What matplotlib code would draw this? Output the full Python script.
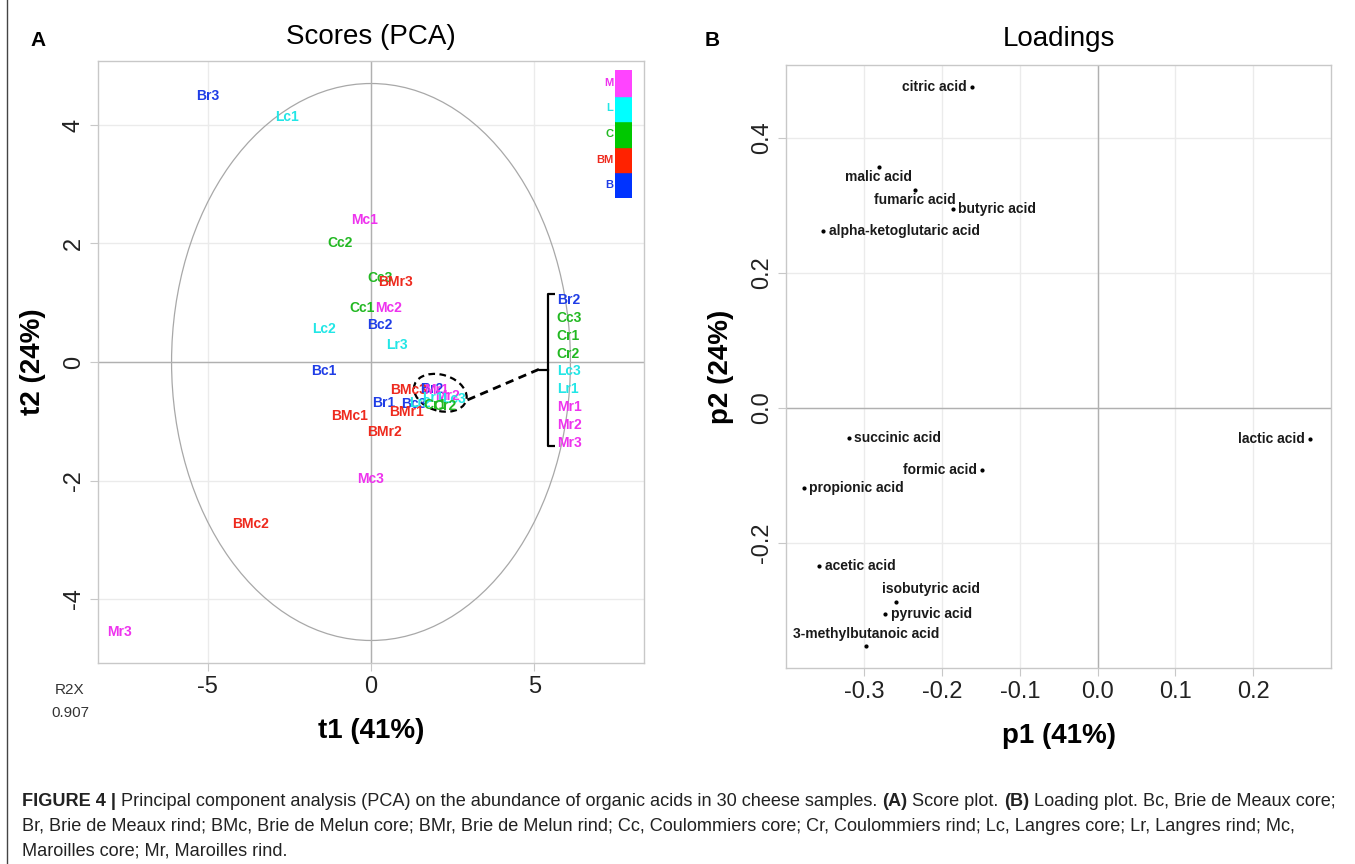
#!/usr/bin/env python3
# -*- coding: utf-8 -*-

import matplotlib

matplotlib.use("Agg")
import matplotlib.pyplot as plt
from matplotlib.patches import Ellipse, Rectangle
from matplotlib.lines import Line2D

plt.rcParams["font.family"] = ["Liberation Sans", "DejaVu Sans"]
plt.rcParams["axes.unicode_minus"] = False

# ---- data -----------------------------------------------------------------
score_names = ["Br3", "Lc1", "Mc1", "Cc2", "Cc3", "BMr3", "Cc1", "Mc2", "Bc2",
               "Lc2", "Lr3", "Bc1", "BMc3", "Br1", "Bc3", "Lr2", "BMr1", "BMc1",
               "BMr2", "Mc3", "BMc2", "Mr3",
               "Br2", "Mr1", "Mr2", "Lc3", "Lr1", "Cr1", "Cr2"]
t1 = [-4.98, -2.57, -0.21, -0.95, 0.28, 0.76, -0.28, 0.52, 0.28,
      -1.44, 0.80, -1.44, 1.15, 0.40, 1.30, 1.50, 1.10, -0.67,
      0.40, 0.00, -3.70, -7.68,
      1.85, 2.00, 2.35, 2.55, 1.90, 1.95, 2.25]
t2 = [4.49, 4.13, 2.39, 2.00, 1.42, 1.35, 0.91, 0.91, 0.62,
      0.56, 0.29, -0.15, -0.47, -0.69, -0.71, -0.69, -0.84, -0.91,
      -1.18, -1.97, -2.73, -4.55,
      -0.45, -0.48, -0.58, -0.62, -0.60, -0.72, -0.74]

cluster_names = ["Br2", "Cc3", "Cr1", "Cr2", "Lc3", "Lr1", "Mr1", "Mr2", "Mr3"]

groups = ["M", "L", "C", "BM", "B"]
group_colors = {"M": "#ff44ff", "L": "#00ffff", "C": "#00c800",
                "BM": "#ff2200", "B": "#0033ff"}
text_colors = {"M": "#ee33ee", "L": "#22e6e6", "C": "#22b822",
               "BM": "#ee2a1e", "B": "#1f3de6"}

acids = ["citric acid", "malic acid", "fumaric acid", "butyric acid",
         "alpha-ketoglutaric acid", "succinic acid", "lactic acid",
         "formic acid", "propionic acid", "acetic acid", "isobutyric acid",
         "pyruvic acid", "3-methylbutanoic acid"]
p1 = [-0.161, -0.281, -0.235, -0.186, -0.353, -0.320, 0.273,
      -0.148, -0.378, -0.358, -0.259, -0.273, -0.298]
p2 = [0.476, 0.357, 0.323, 0.295, 0.262, -0.044, -0.046,
      -0.092, -0.119, -0.234, -0.287, -0.305, -0.353]

# label side for loadings: (dx, dy in points, ha, va)
acid_pos = {"citric acid": (-4, 0, "right", "center"),
            "malic acid": (0, -2, "center", "top"),
            "fumaric acid": (0, -2, "center", "top"),
            "butyric acid": (4, 0, "left", "center"),
            "alpha-ketoglutaric acid": (4, 0, "left", "center"),
            "succinic acid": (4, 0, "left", "center"),
            "lactic acid": (-4, 0, "right", "center"),
            "formic acid": (-4, 0, "right", "center"),
            "propionic acid": (4, 0, "left", "center"),
            "acetic acid": (4, 0, "left", "center"),
            "isobutyric acid": (25, 4, "center", "bottom"),
            "pyruvic acid": (4, 0, "left", "center"),
            "3-methylbutanoic acid": (0, 4, "center", "bottom")}


def group_of(name):
    return name[:-2]


def style_axes(ax):
    for s in ax.spines.values():
        s.set_color("#c8c8c8")
        s.set_linewidth(1.0)
    ax.grid(True, color="#ebebeb", linewidth=1.0)
    ax.set_axisbelow(True)
    ax.tick_params(length=6, color="#c8c8c8", labelsize=17, labelcolor="#222222")
    for lab in ax.get_yticklabels():
        lab.set_rotation(90)
        lab.set_va("center")


def rich_line(fig, x, y, parts, size, family):
    renderer = fig.canvas.get_renderer()
    W = fig.bbox.width
    for s, w in parts:
        t = fig.text(x, y, s, fontsize=size, fontweight=w, family=family,
                     color="#222222", va="baseline", ha="left")
        bb = t.get_window_extent(renderer)
        x += bb.width / W


def main():
    fig = plt.figure(figsize=(13.55, 8.64), dpi=100)

    # ---- scores panel ----
    ax = fig.add_axes([98 / 1355, 1 - 663 / 864, 546 / 1355, 602 / 864])
    ax.set_xlim(-8.35, 8.35)
    ax.set_ylim(-5.08, 5.08)
    ax.set_xticks([-5, 0, 5])
    ax.set_yticks([-4, -2, 0, 2, 4])
    style_axes(ax)
    ax.axhline(0, color="#b0b0b0", lw=1.0)
    ax.axvline(0, color="#b0b0b0", lw=1.0)
    ax.add_patch(Ellipse((0, 0), 2 * 6.1, 2 * 4.7, fill=False,
                         ec="#a8a8a8", lw=0.9))
    for n, x, y in zip(score_names, t1, t2):
        ax.text(x, y, n, color=text_colors[group_of(n)], fontsize=10,
                fontweight="bold", ha="center", va="center")
    ax.add_patch(Ellipse((2.12, -0.52), 1.62, 0.62, angle=-6, fill=False,
                         ec="black", lw=1.6, ls=(0, (3, 2))))
    ax.plot([2.95, 5.15], [-0.64, -0.12], color="black", lw=2, ls=(0, (3, 2)))
    bx, btop, bbot = 5.41, 1.15, -1.42
    ax.plot([5.63, bx, bx, 5.63], [btop, btop, bbot, bbot], color="black",
            lw=1.6, solid_capstyle="butt")
    ax.plot([5.17, bx], [-0.13, -0.13], color="black", lw=1.6)
    step = (btop - bbot) / (len(cluster_names) - 0.5)
    for i, n in enumerate(cluster_names):
        ax.text(5.68, btop - 0.1 - i * step, n, color=text_colors[group_of(n)],
                fontsize=10, fontweight="bold", ha="left", va="center")
    ax.set_xlabel("t1 (41%)", fontsize=20, fontweight="bold", labelpad=14)
    ax.set_ylabel("t2 (24%)", fontsize=20, fontweight="bold", labelpad=12)
    ax.set_title("Scores (PCA)", fontsize=20, pad=12)

    # colour key
    kax = fig.add_axes([615 / 1355, 1 - 198 / 864, 17 / 1355, 128 / 864])
    for i, g in enumerate(groups[::-1]):
        kax.add_patch(Rectangle((0, i), 1, 1, color=group_colors[g]))
        kax.text(-0.1, i + 0.5, g, color=text_colors[g], fontsize=8,
                 fontweight="bold", ha="right", va="center")
    kax.set_xlim(0, 1)
    kax.set_ylim(0, len(groups))
    kax.axis("off")

    # ---- loadings panel ----
    bx2 = fig.add_axes([786 / 1355, 1 - 668 / 864, 545 / 1355, 603 / 864])
    bx2.set_xlim(-0.4005, 0.300)
    bx2.set_ylim(-0.385, 0.508)
    bx2.set_xticks([-0.3, -0.2, -0.1, 0.0, 0.1, 0.2])
    bx2.set_xticklabels(["-0.3", "-0.2", "-0.1", "0.0", "0.1", "0.2"])
    bx2.set_yticks([-0.2, 0.0, 0.2, 0.4])
    bx2.set_yticklabels(["-0.2", "0.0", "0.2", "0.4"])
    style_axes(bx2)
    bx2.axhline(0, color="#b0b0b0", lw=1.0)
    bx2.axvline(0, color="#b0b0b0", lw=1.0)
    bx2.scatter(p1, p2, s=4, color="black", zorder=3)
    for n, x, y in zip(acids, p1, p2):
        dx, dy, ha, va = acid_pos[n]
        bx2.annotate(n, (x, y), xytext=(dx, dy), textcoords="offset points",
                     ha=ha, va=va, fontsize=10, fontweight="bold",
                     color="#1a1a1a")
    bx2.set_xlabel("p1 (41%)", fontsize=20, fontweight="bold", labelpad=14)
    bx2.set_ylabel("p2 (24%)", fontsize=20, fontweight="bold", labelpad=12)
    bx2.set_title("Loadings", fontsize=20, pad=14)

    # panel letters and R2X
    fig.text(38 / 1355, 1 - 40 / 864, "A", fontsize=15, fontweight="bold",
             ha="center", va="center")
    fig.text(712 / 1355, 1 - 40 / 864, "B", fontsize=15, fontweight="bold",
             ha="center", va="center")
    fig.text(70 / 1355, 1 - 690 / 864, "R2X", fontsize=11, ha="center",
             va="center", color="#333333")
    fig.text(70 / 1355, 1 - 713 / 864, "0.907", fontsize=11, ha="center",
             va="center", color="#333333")

    # frame line on the left
    fig.add_artist(Line2D([7 / 1355, 7 / 1355], [0, 1], color="#444444",
                          lw=1.0, transform=fig.transFigure))

    # caption
    fam = ["Liberation Sans", "DejaVu Sans"]
    line1 = [("FIGURE 4 |", "bold"),
             (" Principal component analysis (PCA) on the abundance of organic"
              " acids in 30 cheese samples. ", "normal"),
             ("(A)", "bold"), (" Score plot. ", "normal"), ("(B)", "bold"),
             (" Loading plot. Bc, Brie de Meaux core;", "normal")]
    line2 = [("Br, Brie de Meaux rind; BMc, Brie de Melun core; BMr, Brie de"
              " Melun rind; Cc, Coulommiers core; Cr, Coulommiers rind; Lc,"
              " Langres core; Lr, Langres rind; Mc,", "normal")]
    line3 = [("Maroilles core; Mr, Maroilles rind.", "normal")]
    x0 = 22 / 1355
    size = 13.1
    rich_line(fig, x0, 1 - 806 / 864, line1, size, fam)
    rich_line(fig, x0, 1 - 831 / 864, line2, size, fam)
    rich_line(fig, x0, 1 - 855 / 864, line3, size, fam)

    fig.savefig("out.png", dpi=100)


if __name__ == "__main__":
    main()
